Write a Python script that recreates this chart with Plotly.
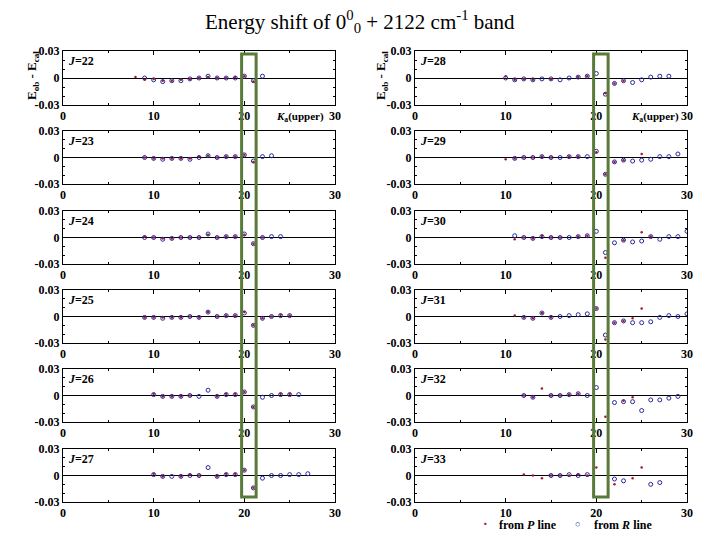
import plotly.graph_objects as go

# J values of the panels (left column 22-27, right column 28-33)
J_list = [22, 23, 24, 25, 26, 27, 28, 29, 30, 31, 32, 33]

# Ka(upper) per panel
K_list = [
    list(range(8, 23)), list(range(9, 24)), list(range(9, 25)),
    list(range(9, 26)), list(range(10, 27)), list(range(10, 28)),
    list(range(10, 29)), list(range(10, 30)), list(range(11, 31)),
    list(range(11, 31)), list(range(12, 30)), list(range(12, 28)),
]

# E_ob - E_cal from R lines (None = no point)
R_vals = [
    [None, 0, -0.002, -0.004, -0.003, -0.003, -0.001, 0, 0.002, 0, 0, 0, 0.002, -0.003, 0.002],
    [0, -0.001, -0.002, -0.001, -0.001, -0.002, 0, 0.002, 0, 0.001, 0.001, 0.003, -0.004, 0.001, 0.002],
    [0, 0, -0.002, -0.001, 0, 0, 0, 0.004, 0, 0.001, 0.001, 0.004, -0.007, 0, 0.001, 0.001],
    [-0.001, -0.001, -0.002, -0.001, -0.001, 0, -0.001, 0.005, 0, 0.001, 0.001, 0.004, -0.01, -0.002, 0, 0.001, 0.001],
    [0.001, -0.001, -0.001, -0.001, 0, -0.001, 0.006, -0.001, 0.001, 0.001, 0.004, -0.013, -0.002, 0, 0.001, 0.001, 0.001],
    [0.001, -0.001, -0.001, -0.001, 0, 0, 0.009, -0.001, 0.001, 0.001, 0.006, -0.014, -0.003, 0, 0, 0.001, 0.001, 0.002],
    [0, -0.002, -0.001, -0.002, -0.001, -0.001, -0.002, 0, 0.001, 0.002, 0.005, -0.018, -0.006, -0.003, -0.005, -0.002, 0.001, 0.002, 0.002],
    [None, -0.001, 0, 0, 0.001, 0, 0, 0.001, 0.001, 0.001, 0.007, -0.019, -0.005, -0.003, -0.004, -0.003, -0.002, 0.001, 0.001, 0.004],
    [0.002, 0, -0.001, 0.001, 0, 0, 0, 0.001, 0.002, 0.007, -0.017, -0.006, -0.003, -0.005, -0.004, 0.001, -0.002, 0.001, 0.001, 0.007],
    [None, -0.001, -0.002, 0.004, -0.001, 0, 0.001, 0.002, 0.003, 0.009, -0.021, -0.007, -0.005, -0.007, -0.007, -0.006, -0.001, 0.001, 0, 0.003],
    [0, -0.002, None, 0, 0, 0.001, 0.002, 0, 0.009, None, -0.008, -0.007, -0.007, -0.017, -0.005, -0.005, -0.003, -0.001],
    [None, None, None, 0, 0, 0.001, 0, 0.001, None, None, -0.004, -0.006, None, None, -0.01, -0.008],
]

# E_ob - E_cal from P lines (None = no point)
P_vals = [
    [0.001, -0.002, -0.001, -0.003, -0.003, -0.002, -0.001, 0, 0.001, 0, 0, 0.001, 0.002, -0.004, None],
    [0, -0.001, -0.001, -0.001, -0.001, -0.001, 0.001, 0.002, 0, 0.001, 0.001, 0.003, -0.005, None, None],
    [0.001, 0, -0.001, -0.001, 0, 0, 0, 0.003, 0, 0.001, 0.001, 0.003, -0.007, 0, None, None],
    [-0.001, -0.001, -0.001, -0.001, -0.001, 0, -0.001, 0.005, 0, 0.001, 0.001, 0.005, -0.01, -0.002, 0, 0.002, 0.001],
    [0.002, -0.001, -0.001, -0.001, 0, None, None, -0.001, 0.002, 0.002, 0.004, -0.013, None, None, 0.002, 0.002, None],
    [0.002, -0.001, None, -0.001, 0.001, 0, None, -0.001, 0.002, 0.002, 0.006, -0.014, None, None, None, None, None, None],
    [0.002, -0.002, -0.001, -0.002, None, -0.001, None, None, 0.001, 0.002, None, -0.017, -0.006, -0.003, None, None, None, None, None],
    [-0.002, -0.001, 0, 0, 0.001, 0, None, 0.001, 0.001, None, 0.006, -0.019, -0.005, -0.003, None, 0.004, None, None, None, None],
    [-0.002, 0, -0.001, 0.002, 0, 0, None, 0.001, 0.002, None, -0.023, None, -0.003, None, 0.006, 0.001, None, None, None, None],
    [0.001, -0.001, -0.002, 0.004, -0.001, None, None, None, None, 0.009, -0.026, -0.007, -0.005, -0.002, 0.009, None, None, None, None, None],
    [0, -0.002, 0.008, 0, 0, 0.001, 0.002, None, None, -0.024, None, -0.006, -0.002, None, None, None, None, None],
    [0.001, 0, -0.003, 0, 0, 0, 0.001, 0, 0.009, None, -0.01, None, -0.003, 0.009, None, None],
]

W, H = 720, 540
OFF = 8  # page body margin of the viewer


def px_x(p):
    return (p - OFF) / W


def px_y(p):
    return 1 - (p - OFF) / H


col_x = [(63, 335), (415, 687)]
row_y = [(51, 105), (131, 184), (211, 264), (290, 343), (369, 422), (449, 502)]

serif = "Times New Roman, Liberation Serif, DejaVu Serif, serif"
tfont = dict(family=serif, size=12, color="black", weight="bold")
fig = go.Figure()
lay = {}
for i, J in enumerate(J_list):
    c, r = divmod(i, 6)
    n = i + 1
    xa = "xaxis" if n == 1 else f"xaxis{n}"
    ya = "yaxis" if n == 1 else f"yaxis{n}"
    xr = "x" if n == 1 else f"x{n}"
    yr = "y" if n == 1 else f"y{n}"
    x0, x1 = col_x[c]
    y0, y1 = row_y[r]
    ax = dict(showline=True, linecolor="black", linewidth=1, mirror="ticks",
              ticks="inside", ticklen=4, tickcolor="black", showgrid=False,
              automargin=False, tickfont=tfont)
    lay[xa] = dict(ax, domain=[px_x(x0), px_x(x1)], range=[0, 30], tickvals=[0, 10, 20, 30],
                   zeroline=False,
                   minor=dict(ticks="inside", ticklen=2, tickcolor="black", dtick=5),
                   anchor=yr)
    lay[ya] = dict(ax, domain=[px_y(y1), px_y(y0)], range=[-0.03, 0.03],
                   tickvals=[-0.03, 0, 0.03], ticktext=["-0.03", "0", "0.03"],
                   zeroline=True, zerolinecolor="black", zerolinewidth=1,
                   minor=dict(ticks="inside", ticklen=2, tickcolor="black", dtick=0.01),
                   anchor=xr)
    ks = K_list[i]
    fig.add_trace(go.Scatter(x=ks, y=R_vals[i], mode="markers", xaxis=xr, yaxis=yr,
                             marker=dict(symbol="circle-open", size=4, color="#28289a",
                                         line=dict(width=1)), showlegend=False))
    fig.add_trace(go.Scatter(x=ks, y=P_vals[i], mode="markers", xaxis=xr, yaxis=yr,
                             marker=dict(symbol="circle", size=2.5, color="#a01838"),
                             showlegend=False))
    fig.add_annotation(text=f"<i>J</i>={J}", xref=f"{xr} domain", yref=f"{yr} domain",
                       x=0.01, y=0.98, xanchor="left", yanchor="top", showarrow=False,
                       font=tfont)

fig.update_layout(**lay)

# green boxes around Ka = 20-21
for xr in ("x", "x7"):
    fig.add_shape(type="rect", xref=xr, yref="paper", x0=19.7, x1=21.3,
                  y0=px_y(497), y1=px_y(54), line=dict(color="#5a7a3a", width=3))


def note(text, x, y, size=12, bold=True, angle=0, xanchor="center"):
    fig.add_annotation(text=text, xref="paper", yref="paper", x=px_x(x), y=px_y(y),
                       xanchor=xanchor, yanchor="middle", textangle=angle, showarrow=False,
                       font=dict(family=serif, size=size, color="black",
                                 weight="bold" if bold else "normal"))


for px in (33, 382):
    note("E<sub>ob</sub> - E<sub>cal</sub>", px, 76, size=13, angle=-90)
for px in (300, 655):
    note("<i>K</i><sub>a</sub>(upper)", px, 117, size=11)

note("<span style='color:#a01838'>·</span>", 485, 524, size=14)
note("from <i>P</i> line", 497, 525, xanchor="left")
note("<span style='color:#28289a'>○</span>", 577, 524, size=9)
note("from <i>R</i> line", 592, 525, xanchor="left")

note("Energy shift of 0<sup>0</sup><sub>0</sub> + 2122 cm<sup>-1</sup> band", 360, 22,
     size=21, bold=False)

fig.update_layout(width=W, height=H, margin=dict(l=0, r=0, t=0, b=0),
                  paper_bgcolor="white", plot_bgcolor="white")
fig.write_html("out.html")
